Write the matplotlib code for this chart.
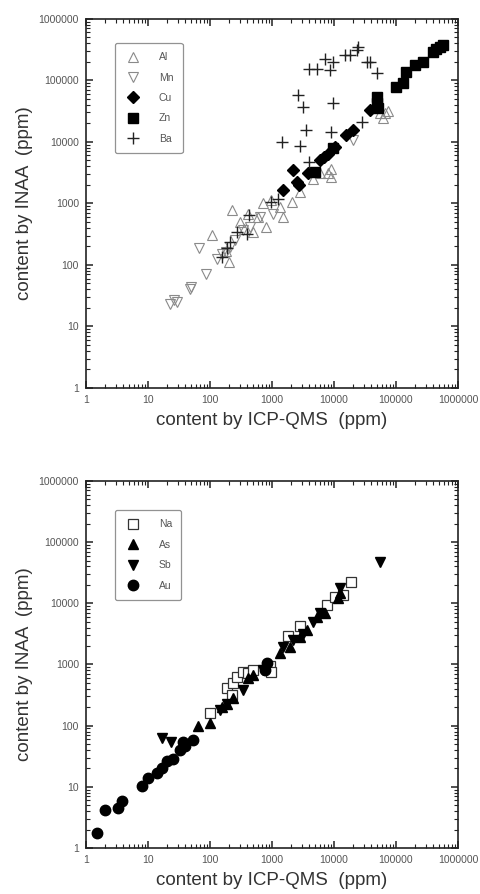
import matplotlib
matplotlib.use("Agg")
import matplotlib.pyplot as plt
from matplotlib.ticker import FixedLocator, LogLocator, NullFormatter, FuncFormatter

plt.rcParams['font.family'] = ['Liberation Sans', 'DejaVu Sans']

# top panel data (ICP-QMS, INAA) in ppm
al_x = [224, 110, 200, 303, 415, 500, 725, 815, 980, 1350, 1520, 2080, 2830, 4650, 5900, 8100, 9100, 9100,
        55000, 66000, 75000, 62000, 360, 600, 180]
al_y = [776, 310, 112, 500, 680, 345, 1000, 415, 1120, 880, 600, 1050, 1550, 2520, 3080, 3080, 2700, 3600,
        29000, 29000, 32000, 24000, 380, 600, 170]
mn_x = [22.6, 29, 26, 48, 50, 67, 87, 128, 155, 210, 253, 345, 640, 1050, 20400, 185, 450]
mn_y = [23.5, 25, 26.5, 41, 44, 185, 72, 126, 152, 195, 250, 365, 600, 680, 10700, 160, 420]
cu_x = [1520, 2200, 2510, 3880, 5900, 8100, 10400, 15900, 20400, 38000, 2700, 7000]
cu_y = [1630, 3460, 2240, 3080, 5010, 6460, 8300, 12900, 15500, 32400, 2000, 5600]
zn_x = [4900, 9700, 48700, 48700, 102000, 131000, 148000, 204000, 277000, 400000, 513000, 580000, 450000, 52000]
zn_y = [3250, 7800, 53700, 42000, 78000, 89000, 138000, 178000, 200000, 290000, 350000, 374000, 320000, 36000]
ba_x = [1480, 2830, 2640, 3200, 3550, 4000, 4000, 5270, 7100, 8680, 9800, 9800, 9100, 15000, 18000, 23300,
        24700, 33700, 38000, 48700, 28000, 190, 210, 270, 420, 980, 155, 390, 1270]
ba_y = [10000, 8700, 57000, 37000, 15500, 4700, 155000, 155000, 218000, 148000, 200000, 42000, 14500, 257000,
        257000, 309000, 350000, 200000, 200000, 132000, 21000, 185, 240, 345, 650, 1050, 135, 320, 1200]

# bottom panel data
na_x = [100, 186, 240, 224, 270, 345, 415, 500, 930, 950, 7600, 10400, 14100, 19200, 1800, 2800]
na_y = [160, 410, 490, 318, 630, 760, 720, 820, 930, 760, 9300, 12800, 13600, 22500, 2900, 4200]
as_x = [65, 100, 155, 190, 240, 415, 500, 1350, 1960, 2830, 3620, 5270, 7100, 12500, 11500]
as_y = [97, 110, 205, 230, 280, 590, 670, 1520, 1960, 2830, 3650, 6000, 6900, 14500, 12000]
sb_x = [16.6, 24, 55000, 345, 725, 1520, 2200, 3200, 4650, 5900, 12500, 186, 145]
sb_y = [63, 55, 48000, 380, 810, 1960, 2500, 3200, 5000, 6900, 17500, 230, 180]
au_x = [1.49, 2.0, 3.3, 3.76, 7.9, 10.1, 13.8, 16.6, 20, 25.6, 33, 37, 39.5, 54, 820, 780]
au_y = [1.76, 4.2, 4.5, 5.8, 10.2, 13.8, 16.7, 20, 26, 29, 40, 55, 46, 59, 1050, 810]

decades = [1, 10, 100, 1000, 10000, 100000, 1000000]

GRAY = "#8a8a8a"


def style_axes(ax):
    ax.set_xscale("log")
    ax.set_yscale("log")
    ax.set_xlim(1, 1e6)
    ax.set_ylim(1, 1e6)
    for ax_ in (ax.xaxis, ax.yaxis):
        ax_.set_major_locator(FixedLocator(decades))
        ax_.set_minor_locator(LogLocator(base=10, subs=range(2, 10), numticks=20))
        ax_.set_major_formatter(FuncFormatter(lambda v, p: "%d" % round(v)))
        ax_.set_minor_formatter(NullFormatter())
    ax.tick_params(which="both", direction="in", top=True, right=True, colors="#222222",
                   labelcolor="#555555", labelsize=7.5)
    ax.tick_params(which="major", length=5, width=1.1, pad=5)
    ax.tick_params(which="minor", length=2.6, width=0.8)
    for s in ax.spines.values():
        s.set_linewidth(1.2)
        s.set_color("#222222")
    ax.set_xlabel("content by ICP-QMS  (ppm)", fontsize=13.5, color="#333333", labelpad=5)
    ax.set_ylabel("content by INAA  (ppm)", fontsize=13.5, color="#333333", labelpad=4)


def legend(ax, y):
    lg = ax.legend(loc="upper left", bbox_to_anchor=(0.078, y), fontsize=7.5, labelspacing=1.0,
                   handletextpad=1.7, borderpad=0.9, handlelength=1.6, frameon=True, fancybox=True,
                   edgecolor="#777777", borderaxespad=0, markerscale=1.0)
    for t in lg.get_texts():
        t.set_color("#555555")
    lg.get_frame().set_linewidth(0.9)


fig = plt.figure(figsize=(4.8, 8.94), dpi=100)

ax1 = fig.add_axes([0.179, 0.566, 0.775, 0.413])
ax1.plot(al_x, al_y, ls="none", marker="^", ms=7, mfc="none", mec=GRAY, mew=0.8, label="Al")
ax1.plot(mn_x, mn_y, ls="none", marker="v", ms=7, mfc="none", mec=GRAY, mew=0.8, label="Mn")
ax1.plot(cu_x, cu_y, ls="none", marker="D", ms=6, mfc="black", mec="black", label="Cu")
ax1.plot(zn_x, zn_y, ls="none", marker="s", ms=6.5, mfc="black", mec="black", label="Zn")
ax1.plot(ba_x, ba_y, ls="none", marker="+", ms=8, mec="#222222", mew=1.0, label="Ba")
style_axes(ax1)
legend(ax1, 0.935)

ax2 = fig.add_axes([0.179, 0.0515, 0.775, 0.4105])
ax2.plot(na_x, na_y, ls="none", marker="s", ms=7, mfc="white", mec="#333333", mew=0.9, label="Na")
ax2.plot(as_x, as_y, ls="none", marker="^", ms=7, mfc="black", mec="black", label="As")
ax2.plot(sb_x, sb_y, ls="none", marker="v", ms=7, mfc="black", mec="black", label="Sb")
ax2.plot(au_x, au_y, ls="none", marker="o", ms=7.5, mfc="black", mec="black", label="Au")
style_axes(ax2)
legend(ax2, 0.921)

fig.savefig("out.png", dpi=100)
